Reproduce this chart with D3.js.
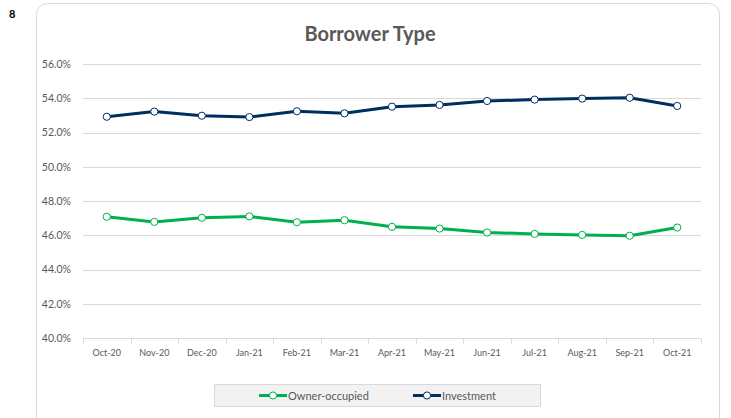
<!DOCTYPE html>
<html>
<head>
<meta charset="utf-8">
<script src="https://cdn.jsdelivr.net/npm/d3@7"></script>
<style>
  html, body { margin: 0; padding: 0; background: #fff; }
  svg { display: block; font-family: Lato, "Open Sans", sans-serif; }
</style>
</head>
<body>
<svg id="chart" width="731" height="418"></svg>
<script>
// Monthly share of lending by borrower type (%)
const months = ["Oct-20","Nov-20","Dec-20","Jan-21","Feb-21","Mar-21","Apr-21","May-21","Jun-21","Jul-21","Aug-21","Sep-21","Oct-21"];
const ownerOccupied = [47.08, 46.78, 47.02, 47.10, 46.76, 46.88, 46.49, 46.39, 46.16, 46.08, 46.02, 45.97, 46.45];
const investment    = [52.92, 53.22, 52.98, 52.90, 53.24, 53.12, 53.51, 53.61, 53.84, 53.92, 53.98, 54.03, 53.55];
const yTicks = [40, 42, 44, 46, 48, 50, 52, 54, 56];
const seriesNames = ["Owner-occupied", "Investment"];
const seriesColors = ["#00b050", "#002e5d"];

const svg = d3.select("#chart");

// figure number
svg.append("text").attr("x", 9).attr("y", 18)
  .attr("font-size", 11).attr("font-weight", "bold").attr("fill", "#000")
  .text("8");

// chart frame
svg.append("rect").attr("x", 36.5).attr("y", 3.5).attr("width", 683).attr("height", 430)
  .attr("rx", 11).attr("fill", "#fff").attr("stroke", "#d9d9d9").attr("stroke-width", 1);

// title
svg.append("text").attr("x", 370).attr("y", 41).attr("text-anchor", "middle")
  .attr("font-size", 20).attr("font-weight", "bold").attr("fill", "#595959")
  .text("Borrower Type");

const plot = { left: 83, right: 701, top: 64, bottom: 338 };

const x = d3.scaleBand().domain(months).range([plot.left, plot.right]).paddingInner(0).paddingOuter(0);
const y = d3.scaleLinear().domain([40, 56]).range([plot.bottom, plot.top]);

// gridlines
svg.append("g")
  .selectAll("line").data(yTicks.filter(d => d > 40)).join("line")
  .attr("x1", plot.left).attr("x2", plot.right)
  .attr("y1", d => Math.round(y(d)) + 0.5).attr("y2", d => Math.round(y(d)) + 0.5)
  .attr("stroke", "#d9d9d9").attr("stroke-width", 1);

// y axis labels
const yAxis = d3.axisLeft(y).tickValues(yTicks).tickSize(0).tickPadding(12)
  .tickFormat(d => d.toFixed(1) + "%");
const gy = svg.append("g").attr("transform", `translate(${plot.left},0)`).call(yAxis);
gy.select(".domain").remove();
gy.selectAll("text").attr("font-size", 10.5).attr("fill", "#595959").attr("font-family", "Lato, sans-serif");

// x axis with ticks at category boundaries
const gx = svg.append("g").attr("transform", `translate(0,${Math.round(plot.bottom) + 0.5})`);
gx.append("line").attr("x1", plot.left).attr("x2", plot.right)
  .attr("stroke", "#d9d9d9");
const bounds = months.map(m => x(m)).concat([plot.right]);
gx.selectAll("line.tick").data(bounds).join("line").attr("class", "tick")
  .attr("x1", d => Math.round(d) + 0.5).attr("x2", d => Math.round(d) + 0.5)
  .attr("y1", 0).attr("y2", 5).attr("stroke", "#d9d9d9");
gx.selectAll("text").data(months).join("text")
  .attr("x", d => x(d) + x.bandwidth() / 2).attr("y", 17)
  .attr("text-anchor", "middle").attr("font-size", 9).attr("fill", "#595959")
  .text(d => d);

// series lines and markers
const cx = m => x(m) + x.bandwidth() / 2;
const line = d3.line().x((d, i) => cx(months[i])).y(d => y(d));
[ownerOccupied, investment].forEach((vals, k) => {
  svg.append("path").datum(vals).attr("d", line)
    .attr("fill", "none").attr("stroke", seriesColors[k]).attr("stroke-width", 3)
    .attr("stroke-linejoin", "round");
  svg.append("g").selectAll("circle").data(vals).join("circle")
    .attr("cx", (d, i) => cx(months[i])).attr("cy", d => y(d)).attr("r", 3.6)
    .attr("fill", "#fff").attr("stroke", seriesColors[k]).attr("stroke-width", 1);
});

// legend
const lg = svg.append("g");
lg.append("rect").attr("x", 214.5).attr("y", 384.5).attr("width", 326).attr("height", 22)
  .attr("fill", "#f2f2f2").attr("stroke", "#d9d9d9");
const legendItems = [{ x0: 259, name: seriesNames[0], color: seriesColors[0] },
                     { x0: 413, name: seriesNames[1], color: seriesColors[1] }];
legendItems.forEach(it => {
  lg.append("line").attr("x1", it.x0).attr("x2", it.x0 + 28).attr("y1", 395.5).attr("y2", 395.5)
    .attr("stroke", it.color).attr("stroke-width", 3);
  lg.append("circle").attr("cx", it.x0 + 14).attr("cy", 395.5).attr("r", 3.6)
    .attr("fill", "#fff").attr("stroke", it.color).attr("stroke-width", 1);
  lg.append("text").attr("x", it.x0 + 29).attr("y", 399.5).attr("font-size", 11)
    .attr("fill", "#595959").text(it.name);
});
</script>
</body>
</html>
